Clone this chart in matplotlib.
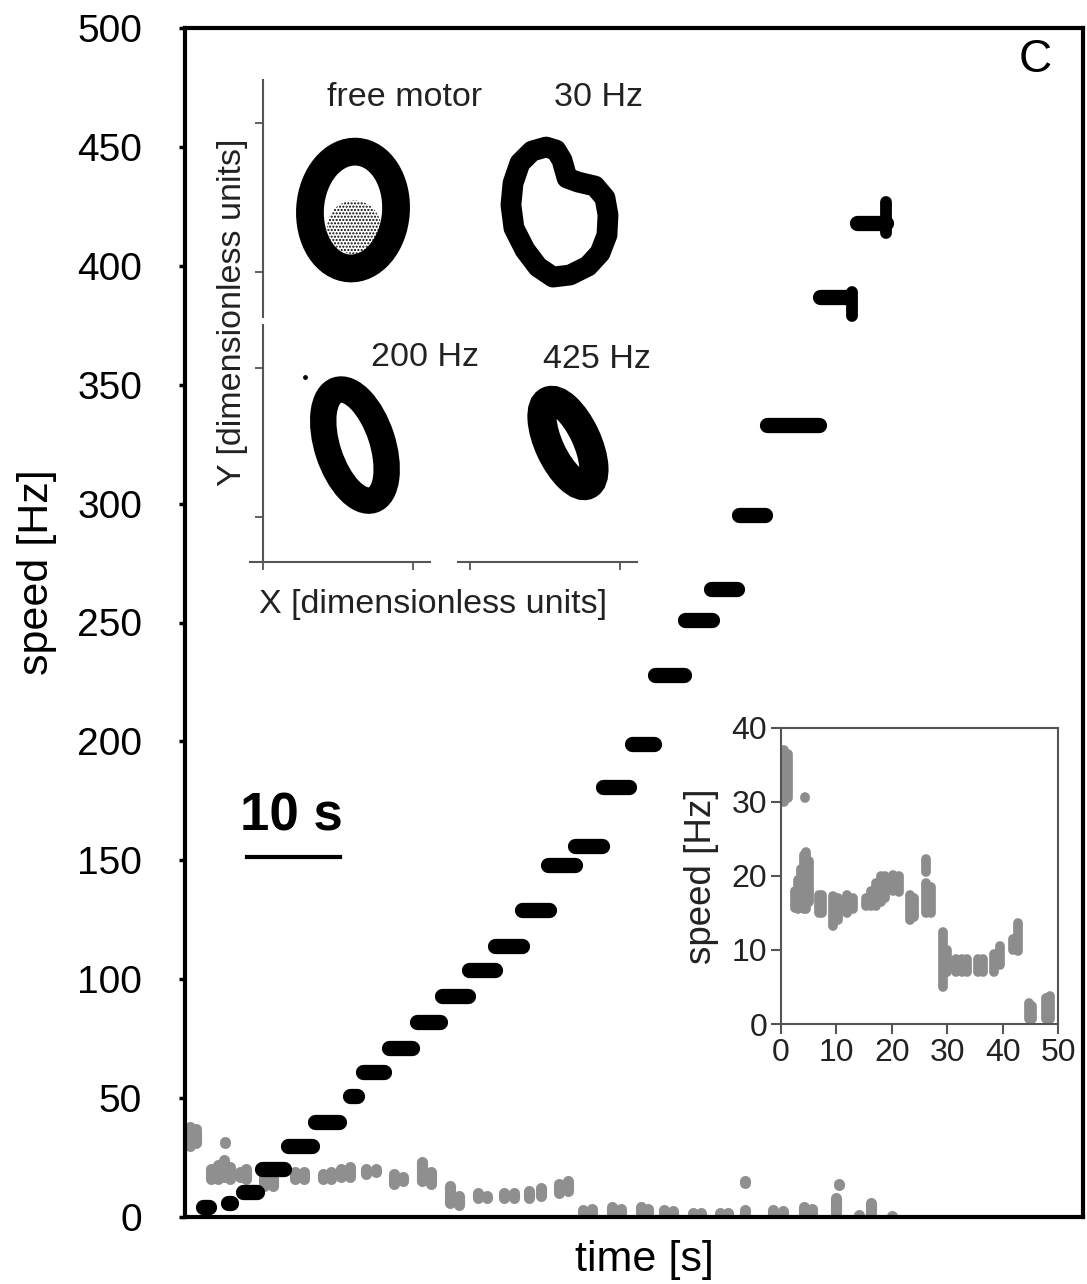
import matplotlib
matplotlib.use('Agg')
import matplotlib.pyplot as plt
from matplotlib.patches import Ellipse, Polygon

plt.rcParams['font.family'] = ['Liberation Sans', 'DejaVu Sans']

W, H = 1087, 1284

# main plot: speed plateaus of the stepped motor (black), time in s
step_start = [1.9, 4.6, 6.2, 8.3, 11.1, 14.0, 17.8, 19.1, 21.9, 25.0, 27.6, 30.6, 33.4,
              36.3, 39.1, 42.0, 45.0, 48.1, 50.6, 53.8, 56.6, 59.6, 62.6, 68.3, 72.3]
step_end = [2.6, 5.0, 7.7, 10.7, 13.7, 16.6, 18.5, 21.4, 24.4, 27.4, 30.4, 33.4, 36.2,
            39.2, 41.9, 44.9, 47.8, 50.4, 53.7, 56.7, 59.4, 62.4, 68.2, 71.4, 75.4]
step_speed = [4, 6, 10.5, 20, 30, 40, 51, 61, 71, 82, 93, 104, 114,
              129, 148, 156, 181, 199, 228, 251, 264, 295, 333, 387, 418]

# vertical spread at the end of the last two plateaus
spike_t = [71.7, 75.4]
spike_lo = [379, 414]
spike_hi = [389, 427]

# main plot: free running motor (gray), columns of points
free_t = [0.5, 1.2, 4.3, 2.8, 3.5, 4.2, 4.8, 5.9, 6.6, 8.5, 9.5, 11.8, 12.8, 14.8, 15.7,
          16.8, 17.7, 19.5, 20.5, 22.5, 23.5, 25.5, 26.5, 28.5, 29.5, 31.5, 32.5, 34.3,
          35.4, 37.0, 38.3, 40.2, 41.2,
          42.8, 43.8, 45.9, 46.9, 49.0, 49.8, 51.5, 52.5, 54.6, 55.5, 57.6, 58.4, 60.2,
          60.2, 63.3, 64.3, 66.6, 67.4, 70.0, 70.3, 72.5, 73.8, 76.0]
free_lo = [30, 31, 31, 16, 16, 17, 16, 17, 16, 13, 13, 16, 16, 16, 16,
           17, 17, 18, 19, 14, 15, 15, 14, 6, 5, 8, 8, 8,
           8, 8, 9, 10, 11,
           -2, -2, -2, -2, -2, -2, -2, -2, -2, -2, -2, -2, -2,
           14.5, -2, -2, -2, -2, -2, 13.5, -2, -2, -2]
free_hi = [38, 37, 31.5, 20, 22, 24, 21, 19, 20, 18, 17, 19, 19, 18, 19,
           20, 21, 20, 20, 18, 17, 23, 19, 13, 9, 10, 9, 10,
           10, 11, 12, 14, 15,
           3, 3.5, 4, 3.5, 4, 3.5, 3, 2.5, 1.5, 1.5, 1.5, 1.5, 3,
           15, 3, 2.5, 4, 3.5, 8, 14, 1, 6, 0.5]

# inset: free running motor speed vs time
ins_t = [0.6, 1.2, 4.4, 2.6, 3.1, 3.6, 4.1, 4.6, 5.0, 6.8, 7.4, 9.4, 10.3, 12.0, 13.0,
         15.3, 16.2, 17.1, 18.0, 18.7, 20.2, 21.3, 23.2, 24.0, 26.2, 26.2, 27.0,
         29.2, 30.0, 31.5, 32.6, 33.5, 35.5, 36.5, 38.5, 39.5, 41.8, 42.7,
         44.8, 45.3, 47.8, 48.6]
ins_lo = [30, 30.5, 30.6, 15.7, 15.5, 15.8, 15.5, 15.5, 16.5, 15, 15, 13.2, 14, 15, 15.5,
          16, 16, 16, 16.5, 17, 18, 17.8, 14, 14.5, 20.5, 15, 15,
          5, 7, 7, 7, 7, 7, 7, 7, 8, 10, 9.8,
          0.7, 0.7, 0.7, 0.7]
ins_hi = [37, 36.5, 30.7, 18, 19.5, 21, 22.8, 23.2, 22, 17.5, 17.5, 17.3, 17, 17.5, 17,
          17, 18, 19, 20, 20, 20.2, 20, 17.5, 17, 22.3, 19, 18.5,
          12.4, 10, 8.8, 8.8, 8.8, 8.8, 8.8, 9.5, 10.5, 11.5, 13.7,
          2.9, 2.5, 3.5, 3.8]

# XY traces (dimensionless units), ellipse rings: center x, center y, width, height, angle
ring_labels = ['free motor', '200 Hz', '425 Hz']
ring_x = [0.60, 0.613, 0.653]
ring_y = [0.416, 0.483, 0.497]
ring_w = [0.573, 0.775, 0.62]
ring_h = [0.785, 0.367, 0.25]
ring_angle = [-4, 108, 115]
ring_lw = [20, 19, 21]

# 30 Hz trace outline (dimensionless units)
hz30_x = [0.507, 0.573, 0.613, 0.647, 0.72, 0.833, 0.90, 0.92, 0.913, 0.867,
          0.787, 0.667, 0.553, 0.453, 0.367, 0.293, 0.273, 0.287, 0.333, 0.413]
hz30_y = [0.839, 0.819, 0.752, 0.631, 0.604, 0.577, 0.497, 0.383, 0.248, 0.128,
          0.040, -0.020, -0.034, 0.034, 0.148, 0.295, 0.450, 0.597, 0.732, 0.812]

# scale bar for time axis
bar_t = [6.7, 16.7]
bar_speed = 151.5


def px_box(x0, y0, x1, y1):
    return [x0 / W, 1 - y1 / H, (x1 - x0) / W, (y1 - y0) / H]


def px_text(x, y, s, **kw):
    fig.text(x / W, 1 - y / H, s, ha='center', va='center', **kw)


fig = plt.figure(figsize=(W / 100, H / 100), dpi=100)

# main axes
ax = fig.add_axes(px_box(185, 28, 1083, 1217))
ax.vlines(free_t, free_lo, free_hi, color='#8f8f8f', lw=8, capstyle='round', zorder=1)
ax.hlines(step_speed, step_start, step_end, color='black', lw=11, capstyle='round', zorder=3)
ax.vlines(spike_t, spike_lo, spike_hi, color='black', lw=8.5, capstyle='round', zorder=3)
ax.plot(bar_t, [bar_speed, bar_speed], color='black', lw=3)
ax.text(sum(bar_t) / 2 - 0.3, bar_speed + 17, '10 s', ha='center', va='center',
        fontsize=38, fontweight='bold')
ax.text(0.947, 0.973, 'C', transform=ax.transAxes, ha='center', va='center', fontsize=33)

ax.set_xlim(0, 96.6)
ax.set_ylim(0, 500)
ax.set_xticks([])
ax.set_yticks(range(0, 501, 50))
ax.tick_params(axis='y', direction='out', length=4, width=2.5, labelsize=28, pad=27)
for sp in ax.spines.values():
    sp.set_linewidth(3)
ax.set_ylabel('speed [Hz]', fontsize=31)
ax.set_xlabel('time [s]', fontsize=31)
ax.yaxis.set_label_coords(-0.1425, 0.542)
ax.xaxis.set_label_coords(0.512, -0.019)

# inset: speed vs time of free motor
axi = fig.add_axes(px_box(781, 728, 1058, 1024))
axi.vlines(ins_t, ins_lo, ins_hi, color='#8c8c8c', lw=7, capstyle='round')
axi.set_xlim(0, 50)
axi.set_ylim(0, 40)
axi.set_xticks(range(0, 51, 10))
axi.set_yticks(range(0, 41, 10))
axi.tick_params(direction='out', length=7, width=1.5, color='#555555',
                labelsize=23, labelcolor='#222222', pad=3)
for sp in axi.spines.values():
    sp.set_color('#555555')
    sp.set_linewidth(1.5)
axi.set_ylabel('speed [Hz]', fontsize=26.5, color='#222222', labelpad=9)

# XY inset: four broken-axis panels
boxes = [(250, 80, 430, 317), (458, 80, 637, 317), (250, 325, 430, 562), (458, 325, 637, 562)]
xy_axes = []
for i, b in enumerate(boxes):
    a = fig.add_axes(px_box(*b))
    a.patch.set_alpha(0)
    a.set_xlim((b[0] - 263) / 150 if i % 2 == 0 else (b[0] - 470) / 150,
               (b[2] - 263) / 150 if i % 2 == 0 else (b[2] - 470) / 150)
    a.set_ylim(-0.302, 1.289)
    for sp in a.spines.values():
        sp.set_visible(False)
        sp.set_color('#555555')
        sp.set_linewidth(1.5)
    a.set_xticks([])
    a.set_yticks([])
    a.tick_params(direction='out', length=6, width=1.3, color='#555555',
                  labelleft=False, labelbottom=False)
    xy_axes.append(a)

for a in (xy_axes[0], xy_axes[2]):
    a.spines['left'].set_visible(True)
    a.spines['left'].set_position(('data', 0))
    a.set_yticks([0, 1])
for a in (xy_axes[2], xy_axes[3]):
    a.spines['bottom'].set_visible(True)
    a.set_xticks([0, 1])

ring_axes = [xy_axes[0], xy_axes[2], xy_axes[3]]
for a, x, y, w, h, ang, lw in zip(ring_axes, ring_x, ring_y, ring_w, ring_h, ring_angle, ring_lw):
    a.add_patch(Ellipse((x, y), w, h, angle=ang, fill=False, edgecolor='black', lw=lw))

# partially filled centre of the free motor trace
xy_axes[0].add_patch(Ellipse((0.607, 0.30), 0.36, 0.36, fill=False, edgecolor='black',
                             lw=0, hatch='.....'))
xy_axes[2].scatter([0.28], [0.94], s=6, color='black')

xy_axes[1].add_patch(Polygon(list(zip(hz30_x, hz30_y)), closed=True, fill=False,
                             edgecolor='black', lw=15, joinstyle='round'))

px_text(405, 97, 'free motor', fontsize=24.5, color='#222222')
px_text(598, 97, '30 Hz', fontsize=24.5, color='#222222')
px_text(425, 357, '200 Hz', fontsize=24.5, color='#222222')
px_text(597, 360, '425 Hz', fontsize=24.5, color='#222222')
px_text(233, 312, 'Y [dimensionless units]', fontsize=24.5, color='#222222', rotation=90)
px_text(433, 605, 'X [dimensionless units]', fontsize=24.5, color='#222222')

fig.savefig('out.png', dpi=100)
